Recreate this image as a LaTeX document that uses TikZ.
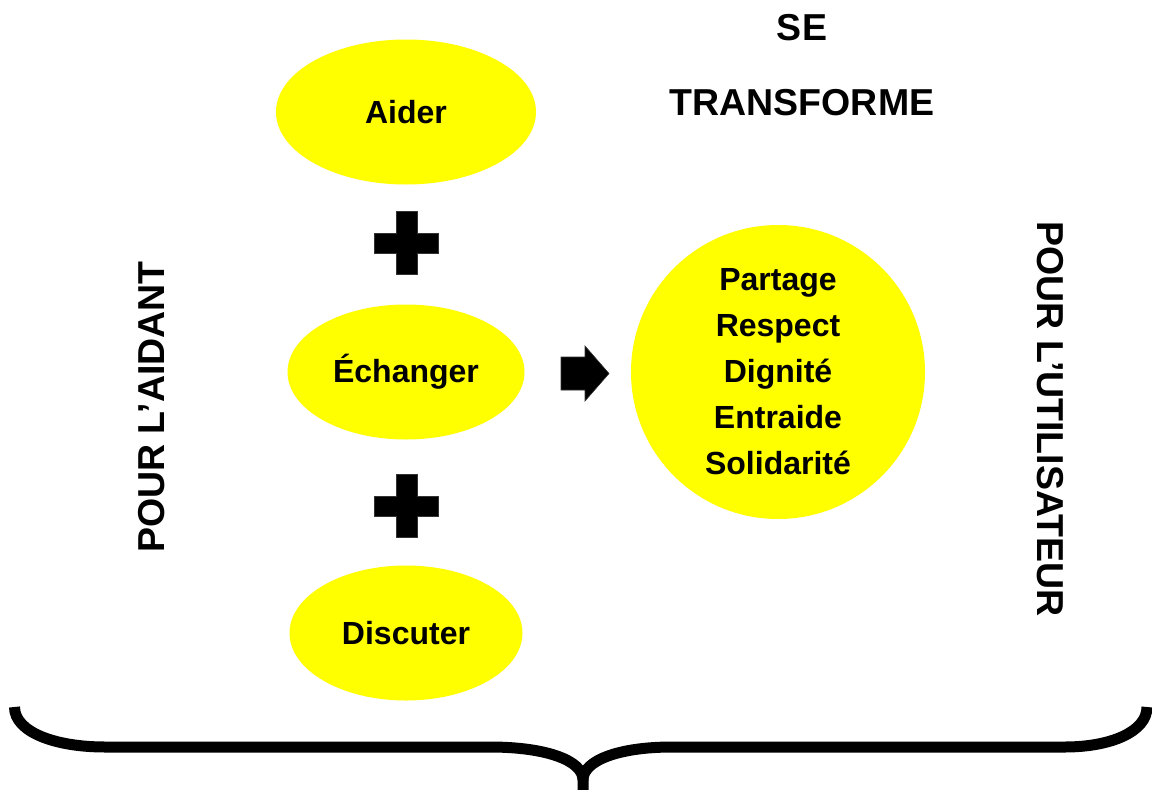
\documentclass[tikz,border=0pt]{standalone}
\usepackage{fontspec}
\setmainfont{Liberation Sans}
\usetikzlibrary{shapes.geometric}
\definecolor{pureyellow}{RGB}{255,255,0}
\begin{document}
\begin{tikzpicture}[x=1pt,y=-1pt,
  blob/.style={ellipse,fill=pureyellow,inner sep=0pt,font=\bfseries\fontsize{32}{46}\selectfont,align=center},
  title/.style={font=\bfseries\fontsize{37.5}{44}\selectfont,inner sep=0pt},
  shapefill/.style={fill=black,draw=black!80,line width=0.6pt}]
\useasboundingbox (0,0) rectangle (1152,790);
\node[blob,minimum width=260pt,minimum height=145pt] (aider) at (406,112) {Aider};
\node[blob,minimum width=237pt,minimum height=135pt] (echanger) at (406,372) {Échanger};
\node[blob,minimum width=233pt,minimum height=135pt] (discuter) at (406,633) {Discuter};
\node[blob,circle,minimum size=294pt] (valeurs) at (778,372) {Partage\\Respect\\Dignité\\Entraide\\Solidarité};
\node[title] (se) at (802,28) {SE};
\node[title] (transforme) at (802,103) {TRANSFORME};
\node[title,rotate=90] (aidant) at (152,407) {POUR L’AIDANT};
\node[title,rotate=-90] (utilisateur) at (1050,419) {POUR L’UTILISATEUR};
% plus signs
\foreach \cy/\nm in {242/plusA,505/plusB}{
  \fill[shapefill] (396,\cy-31) -- (417,\cy-31) -- (417,\cy-9) -- (438,\cy-9) -- (438,\cy+11) -- (417,\cy+11) -- (417,\cy+32) -- (396,\cy+32) -- (396,\cy+11) -- (374,\cy+11) -- (374,\cy-9) -- (396,\cy-9) -- cycle;
}
% arrow
\fill[shapefill] (561,357) -- (585,357) -- (585,346) -- (609,373.5) -- (585,401) -- (585,390) -- (561,390) -- cycle;
% brace
\draw[line width=11pt] (14.5,707) .. controls (14.5,732) and (55,747) .. (105,747) -- (490,747) .. controls (545,747) and (583,760) .. (583,780) -- (583,795);
\draw[line width=11pt] (1147,707) .. controls (1147,732) and (1110,747) .. (1065,747) -- (672,747) .. controls (620,747) and (583,760) .. (583,780);
\end{tikzpicture}
\end{document}
